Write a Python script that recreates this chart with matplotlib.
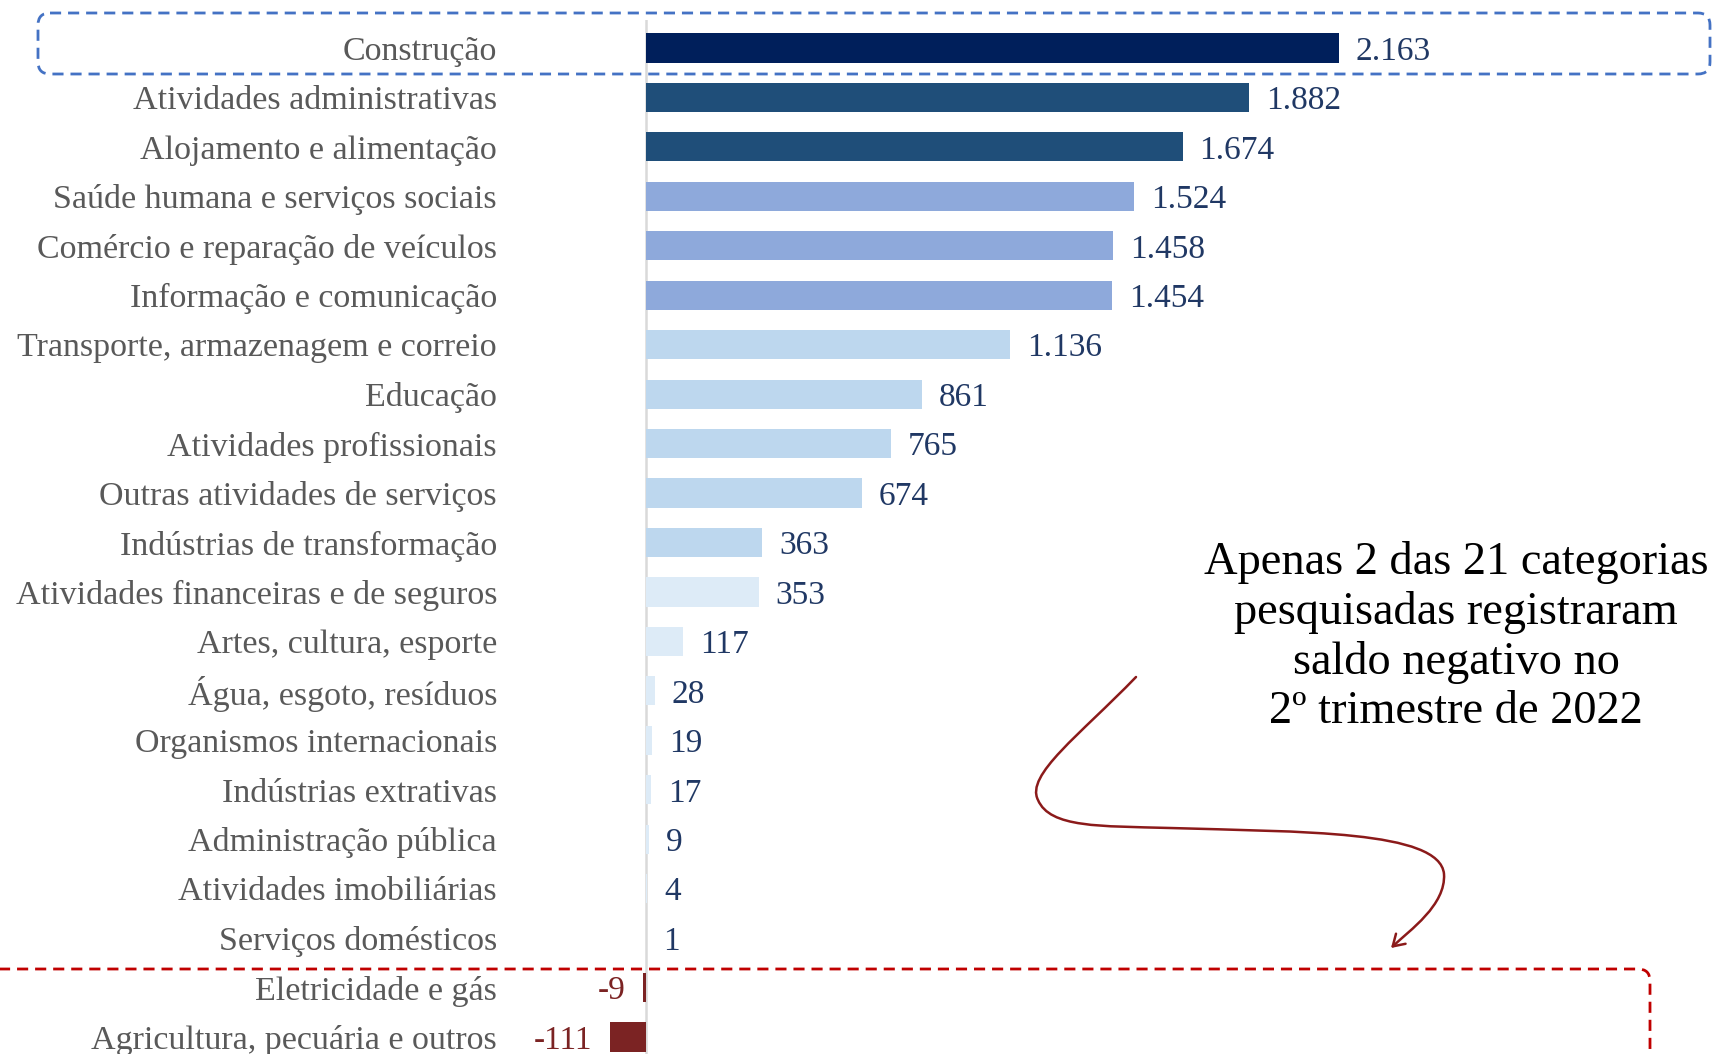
import matplotlib
matplotlib.use("Agg")
import matplotlib.pyplot as plt
from matplotlib.patches import FancyBboxPatch, FancyArrowPatch
from matplotlib.path import Path
from matplotlib.transforms import Affine2D

categories = [
    "Construção", "Atividades administrativas", "Alojamento e alimentação",
    "Saúde humana e serviços sociais", "Comércio e reparação de veículos",
    "Informação e comunicação", "Transporte, armazenagem e correio",
    "Educação", "Atividades profissionais", "Outras atividades de serviços",
    "Indústrias de transformação", "Atividades financeiras e de seguros",
    "Artes, cultura, esporte", "Água, esgoto, resíduos",
    "Organismos internacionais", "Indústrias extrativas",
    "Administração pública", "Atividades imobiliárias",
    "Serviços domésticos", "Eletricidade e gás", "Agricultura, pecuária e outros",
]
values = [2163, 1882, 1674, 1524, 1458, 1454, 1136, 861, 765, 674, 363, 353,
          117, 28, 19, 17, 9, 4, 1, -9, -111]
bar_colors = (["#001F5B"] + ["#1F4E79"] * 2 + ["#8EA9DB"] * 3 + ["#BDD7EE"] * 5
              + ["#DDEBF7"] * 8 + ["#7B2323"] * 2)
note = "Apenas 2 das 21 categorias\npesquisadas registraram\nsaldo negativo no\n2º trimestre de 2022"

W, H = 1713, 1054
fig = plt.figure(figsize=(W / 100, H / 100), dpi=100)
plt.rcParams['font.family'] = ['Liberation Serif', 'DejaVu Serif']

ax_left, ax_top = 560, 20
ax = fig.add_axes([ax_left / W, 0, (W - ax_left) / W, (H - ax_top) / H])

zero_px, ppu = 646, 0.3205
ax.set_xlim((ax_left - zero_px) / ppu, (W - zero_px) / ppu)
row0, step = 48, 49.45
ax.set_ylim((H - row0) / step, (ax_top - row0) / step)

ypos = list(range(len(categories)))
ax.barh(ypos, values, height=0.59, color=bar_colors, zorder=2)
ax.axvline(0, color="#D9D9D9", lw=1.8, zorder=1)

for s in ax.spines.values():
    s.set_visible(False)
ax.set_xticks([])
ax.set_yticks(ypos)
ax.set_yticklabels(categories, fontsize=24.5, color="#595959")
ax.tick_params(axis="y", length=0, pad=(ax_left - 497) * 0.72)

for y, v in zip(ypos, values):
    txt = f"{abs(v):,}".replace(",", ".")
    if v >= 0:
        ax.annotate(txt, (v, y), xytext=(12, 0), textcoords="offset points",
                    ha="left", va="center_baseline", fontsize=24, color="#203864")
    else:
        ax.annotate("-" + txt, (v, y), xytext=(-13, 0), textcoords="offset points",
                    ha="right", va="center_baseline", fontsize=24, color="#7B2323")

# pixel transform (origin top-left)
pix = Affine2D().scale(1 / W, -1 / H).translate(0, 1) + fig.transFigure

blue_box = FancyBboxPatch((38, 13), 1710 - 38, 74 - 13,
                          boxstyle="round,pad=0,rounding_size=12",
                          fill=False, ec="#4472C4", lw=2, ls=(0, (4, 2.5)),
                          transform=pix, clip_on=False)
fig.add_artist(blue_box)

red_box = FancyBboxPatch((-20, 969), 1650 + 20, 120,
                         boxstyle="round,pad=0,rounding_size=12",
                         fill=False, ec="#C00000", lw=2, ls=(0, (4, 2.5)),
                         transform=pix, clip_on=False)
fig.add_artist(red_box)

fig.text(1456 / W, 1 - 637 / H, note, ha="center", va="center",
         fontsize=33.4, color="black", linespacing=1.2)

verts = [(1136, 677),
         (1080, 735), (1025, 775), (1038, 800),
         (1050, 828), (1100, 826), (1170, 828),
         (1300, 832), (1440, 830), (1444, 874),
         (1446, 905), (1410, 930), (1391, 948)]
codes = [Path.MOVETO] + [Path.CURVE4] * 12
arrow = FancyArrowPatch(path=Path(verts, codes), arrowstyle="->,head_length=8,head_width=5",
                        color="#8B1A1A", lw=1.8, transform=pix)
fig.add_artist(arrow)

fig.savefig("out.png", dpi=100, facecolor="white")
